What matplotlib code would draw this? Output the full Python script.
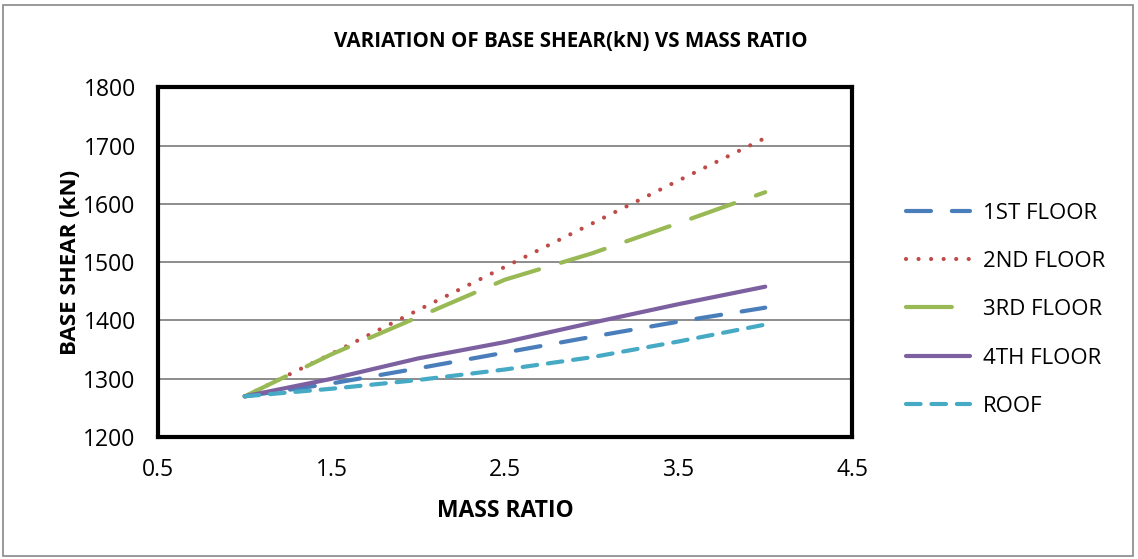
import matplotlib
matplotlib.use("Agg")
import matplotlib.pyplot as plt
from matplotlib.patches import Rectangle

plt.rcParams['font.family'] = ['Open Sans', 'DejaVu Sans']

# mass ratio vs base shear (kN) for each floor
mass_ratio = [1.0, 1.5, 2.0, 2.5, 3.0, 3.5, 4.0]
first_floor = [1270, 1292, 1318, 1345, 1372, 1398, 1422]
second_floor = [1270, 1343, 1418, 1492, 1566, 1640, 1713]
third_floor = [1270, 1342, 1406, 1470, 1515, 1567, 1620]
fourth_floor = [1270, 1300, 1335, 1363, 1396, 1428, 1458]
roof = [1270, 1283, 1298, 1316, 1337, 1364, 1393]

labels = ['1ST FLOOR', '2ND FLOOR', '3RD FLOOR', '4TH FLOOR', 'ROOF']
series = [first_floor, second_floor, third_floor, fourth_floor, roof]
colors = ['#4a7ebb', '#be4b48', '#98b954', '#7d60a0', '#46aac5']
styles = [(0, (6, 5)), (0, (0.01, 3.0)), (0, (11, 5.5)), '-', (0, (3.5, 2.6))]

fig = plt.figure(figsize=(11.38, 5.59), dpi=100)
fig.patches.append(Rectangle((0.003, 0.005), 0.993, 0.986, transform=fig.transFigure,
                             fill=False, edgecolor='#888888', lw=1.2))
ax = fig.add_axes([0.1388, 0.218, 0.6099, 0.626])

for vals, lab, c, ls in zip(series, labels, colors, styles):
    ax.plot(mass_ratio, vals, color=c, lw=3.0, linestyle=ls, label=lab,
            solid_capstyle='round', dash_capstyle='round')

ax.set_xlim(0.5, 4.5)
ax.set_ylim(1200, 1800)
ax.set_xticks([0.5, 1.5, 2.5, 3.5, 4.5])
ax.set_yticks(range(1200, 1801, 100))
ax.tick_params(length=0, labelsize=16.5)
ax.tick_params(axis='x', pad=15)
ax.tick_params(axis='y', pad=16)
ax.grid(axis='y', color='#8c8c8c', lw=1.4)
ax.set_axisbelow(True)
for s in ax.spines.values():
    s.set_linewidth(3)

ax.set_xlabel('MASS RATIO', fontsize=16.5, fontweight='bold', labelpad=12)
ax.set_ylabel('BASE SHEAR (kN)', fontsize=16, fontweight='bold', labelpad=2)
fig.text(0.502, 0.925, 'VARIATION OF BASE SHEAR(kN) VS MASS RATIO', ha='center', va='center',
         fontsize=14.8, fontweight='bold')

ax.legend(loc='center left', bbox_to_anchor=(1.065, 0.364), frameon=False, fontsize=16,
          handlelength=2.9, labelspacing=1.23, handletextpad=0.55, borderaxespad=0)

fig.savefig('out.png', dpi=100)
